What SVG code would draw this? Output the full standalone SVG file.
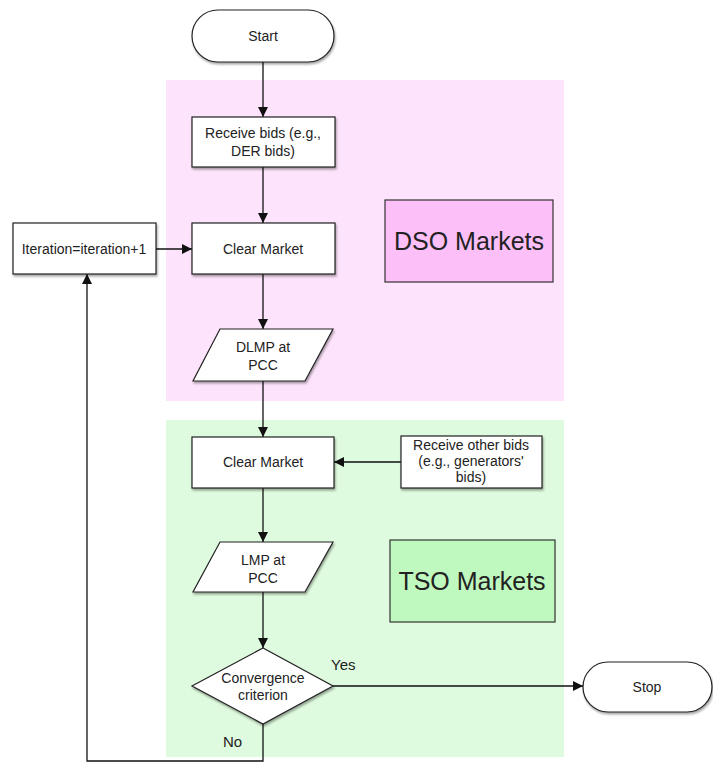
<svg xmlns="http://www.w3.org/2000/svg" width="713" height="763" viewBox="0 0 713 763">
<defs>
<style>
.node{fill:#fff;stroke:#222;stroke-width:1.2}
.t{font-family:"Liberation Sans",Arial,sans-serif;font-size:14px;fill:#222;text-anchor:middle}
.big{font-family:"Liberation Sans",Arial,sans-serif;font-size:25px;fill:#222;text-anchor:middle}
.lbl{font-family:"Liberation Sans",Arial,sans-serif;font-size:15px;fill:#222}
.c{fill:none;stroke:#111;stroke-width:1.3}
</style>
<marker id="ah" viewBox="0 0 10 10" refX="10" refY="5" markerWidth="10" markerHeight="10" markerUnits="userSpaceOnUse" orient="auto">
<path d="M0,0 L10,5 L0,10 z" fill="#111"/>
</marker>
<filter id="sh" x="-10%" y="-10%" width="130%" height="140%">
<feDropShadow dx="1" dy="2" stdDeviation="1.2" flood-color="#000" flood-opacity="0.35"/>
</filter>
</defs>
<rect width="713" height="763" fill="#fff"/>
<g id="dso-region"><rect x="166" y="80" width="398" height="321" fill="#fde3fb"/></g>
<g id="tso-region"><rect x="166" y="420" width="398" height="337" fill="#dffbdf"/></g>

<g id="connectors">
<line class="c" x1="263" y1="62" x2="263" y2="117" marker-end="url(#ah)"/>
<line class="c" x1="263" y1="167" x2="263" y2="223" marker-end="url(#ah)"/>
<line class="c" x1="156" y1="249" x2="192" y2="249" marker-end="url(#ah)"/>
<line class="c" x1="263" y1="274" x2="263" y2="329" marker-end="url(#ah)"/>
<line class="c" x1="263" y1="381" x2="263" y2="437" marker-end="url(#ah)"/>
<line class="c" x1="401" y1="462" x2="334" y2="462" marker-end="url(#ah)"/>
<line class="c" x1="263" y1="488" x2="263" y2="542" marker-end="url(#ah)"/>
<line class="c" x1="263" y1="592" x2="263" y2="648" marker-end="url(#ah)"/>
<line class="c" x1="333" y1="686" x2="583" y2="686" marker-end="url(#ah)"/>
<polyline class="c" points="263,724 263,761 87,761 87,274" marker-end="url(#ah)"/>
</g>

<g id="start"><rect class="node" filter="url(#sh)" x="192" y="10" width="142" height="52" rx="26"/><text class="t" x="263" y="41">Start</text></g>
<g id="receive-bids"><rect class="node" filter="url(#sh)" x="192" y="117" width="143" height="50"/><text class="t" x="263" y="138">Receive bids (e.g.,</text><text class="t" x="263" y="156">DER bids)</text></g>
<g id="clear-market-dso"><rect class="node" filter="url(#sh)" x="192" y="223" width="143" height="51"/><text class="t" x="263" y="254">Clear Market</text></g>
<g id="iteration"><rect class="node" filter="url(#sh)" x="13" y="223" width="143" height="51"/><text class="t" x="84" y="254">Iteration=iteration+1</text></g>
<g id="dlmp"><polygon class="node" filter="url(#sh)" points="220,329 333,329 305,381 193,381"/><text class="t" x="263" y="352">DLMP at</text><text class="t" x="263" y="370">PCC</text></g>
<g id="dso-label"><rect x="385" y="200" width="168" height="82" fill="#fcbff8" stroke="#333" stroke-width="1.2"/><text class="big" x="469" y="250">DSO Markets</text></g>

<g id="clear-market-tso"><rect class="node" filter="url(#sh)" x="192" y="437" width="142" height="51"/><text class="t" x="263" y="467">Clear Market</text></g>
<g id="receive-other"><rect class="node" filter="url(#sh)" x="401" y="436" width="141" height="52"/><text class="t" x="471" y="450">Receive other bids</text><text class="t" x="471" y="466">(e.g., generators'</text><text class="t" x="471" y="482">bids)</text></g>
<g id="lmp"><polygon class="node" filter="url(#sh)" points="220,542 333,542 305,592 193,592"/><text class="t" x="263" y="565">LMP at</text><text class="t" x="263" y="583">PCC</text></g>
<g id="tso-label"><rect x="390" y="540" width="165" height="82" fill="#bff9bf" stroke="#333" stroke-width="1.2"/><text class="big" x="472" y="590">TSO Markets</text></g>
<g id="convergence"><polygon class="node" filter="url(#sh)" points="263,648 333,686 263,724 192,686"/><text class="t" x="263" y="683">Convergence</text><text class="t" x="263" y="700">criterion</text></g>
<g id="stop"><rect class="node" filter="url(#sh)" x="583" y="662" width="129" height="50" rx="25"/><text class="t" x="647" y="692">Stop</text></g>
<text class="lbl" x="331" y="670">Yes</text>
<text class="lbl" x="223" y="747">No</text>
</svg>
